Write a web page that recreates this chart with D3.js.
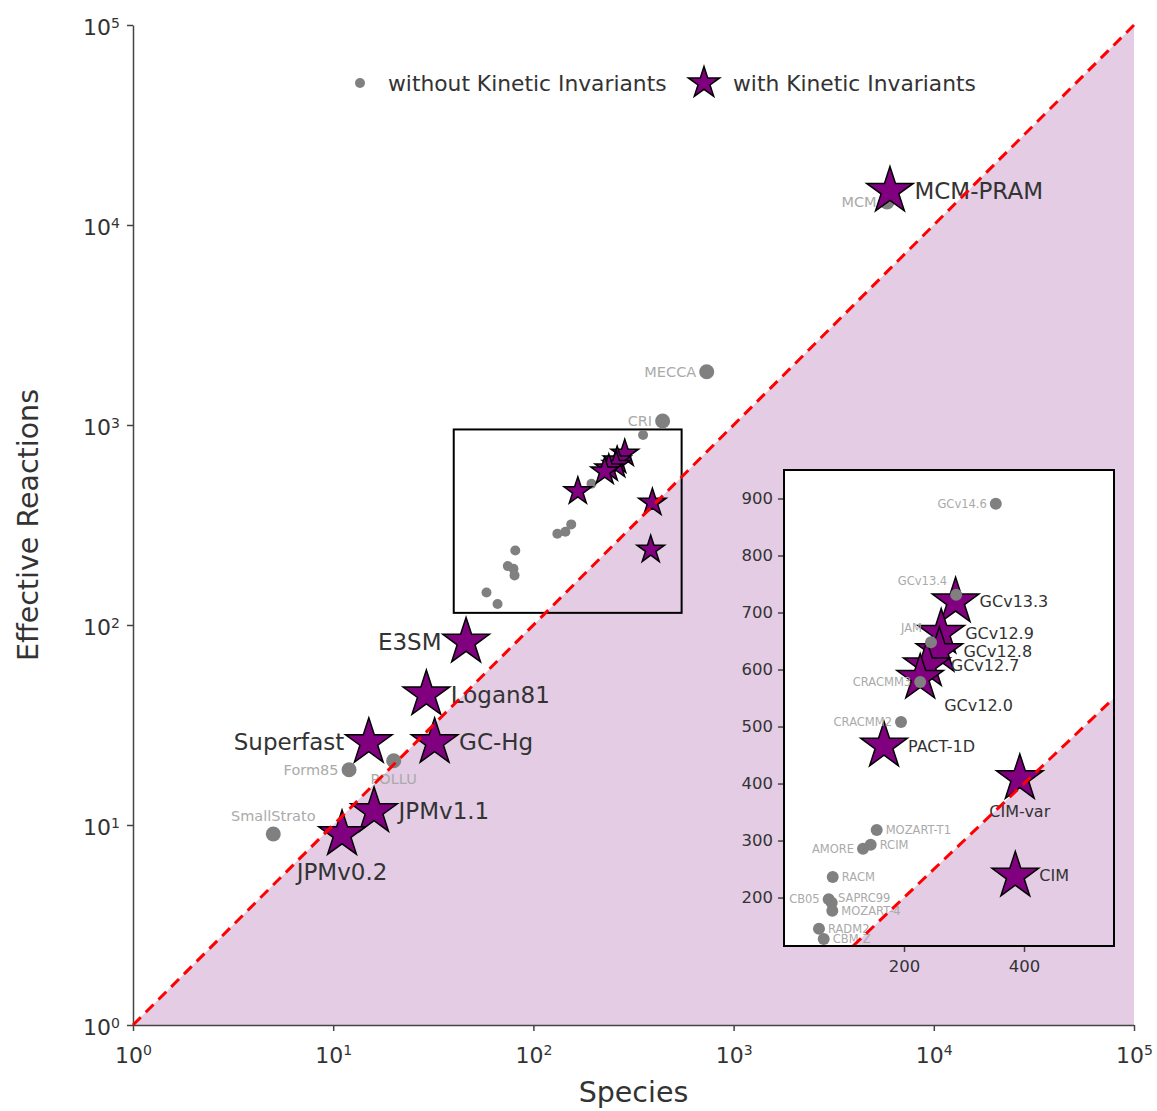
<!DOCTYPE html>
<html>
<head>
<meta charset="utf-8">
<script src="https://cdn.jsdelivr.net/npm/d3@7"></script>
<style>
  body { margin: 0; background: #fff; }
  text { font-family: "DejaVu Sans", Verdana, sans-serif; }
</style>
</head>
<body>
<div id="chart"></div>
<script>
// mechanisms without kinetic invariants
const plainNames = ['SmallStrato', 'Form85', 'POLLU', 'MECCA', 'CRI', 'MCM',
  'GCv14.6', 'GCv13.4', 'JAM', 'CRACMM3', 'CRACMM2', 'MOZART-T1', 'RCIM', 'AMORE',
  'RACM', 'CB05', 'SAPRC99', 'MOZART-4', 'RADM2', 'CBM-Z'];
const plainSpecies = [5.02, 12.0, 20.05, 734, 442, 5840,
  353, 287, 245, 227, 195, 154.5, 144.5, 131.7,
  81.2, 74.5, 79.5, 80.5, 58.3, 66.2];
const plainReactions = [9.02, 18.9, 20.96, 1847, 1047, 13030,
  891, 731, 648, 578, 508, 318.5, 292.7, 285.7,
  236, 197, 191, 177, 145.3, 127.3];
const plainLabelPos = ['top', 'left', 'bottom', 'left', 'left', 'left',
  'left', 'topleft', 'topleft', 'left', 'left', 'right', 'right', 'left',
  'right', 'left', 'topright', 'right', 'right', 'right'];

// mechanisms with kinetic invariants
const kiNames = ['MCM-PRAM', 'E3SM', 'Logan81', 'Superfast', 'GC-Hg', 'JPMv1.1', 'JPMv0.2',
  'GCv13.3', 'GCv12.9', 'GCv12.8', 'GCv12.7', 'GCv12.0', 'PACT-1D', 'CIM-var', 'CIM'];
const kiSpecies = [6040, 46.1, 29.2, 15.06, 32.1, 16.0, 11.07,
  286, 262, 259, 238, 227, 166.7, 393, 385.5];
const kiReactions = [14790, 82.3, 44.9, 25.9, 25.9, 11.7, 8.97,
  719, 664, 632, 607, 585, 466, 409, 238];
const kiLabelPos = ['right', 'left', 'right', 'left', 'right', 'right', 'bottom',
  'right', 'right', 'right', 'right', 'bottomright', 'right', 'bottom', 'right'];

const logTicks = [1, 10, 100, 1e3, 1e4, 1e5];
const insetXTicks = [200, 400];
const insetYTicks = [200, 300, 400, 500, 600, 700, 800, 900];
const zoomSpecies = [40, 550];
const zoomReactions = [115, 950];
const insetSpeciesRange = [0, 550];

const legendLabels = ['without Kinetic Invariants', 'with Kinetic Invariants'];

class MechanismChart {
  constructor(_config) {
    this.config = {
      parentElement: _config.parentElement,
      containerWidth: 1157,
      containerHeight: 1111,
      margin: {top: 25, right: 23, bottom: 86, left: 133},
      inset: {left: 784, top: 470, width: 330, height: 476},
      purple: '#800080',
      shade: '#e3cce4',
      grey: '#808080',
      greyText: '#aaaaaa',
      darkText: '#333333'
    };
    this.plain = plainNames.map((n, i) => ({name: n, x: plainSpecies[i], y: plainReactions[i], pos: plainLabelPos[i]}));
    this.ki = kiNames.map((n, i) => ({name: n, x: kiSpecies[i], y: kiReactions[i], pos: kiLabelPos[i]}));
    this.initVis();
  }

  inZoom(d) {
    return d.x >= zoomSpecies[0] && d.x <= zoomSpecies[1] && d.y >= zoomReactions[0] && d.y <= zoomReactions[1];
  }

  starPath(r) {
    return d3.symbol().type(d3.symbolStar).size(r * r / 0.8908130915292852)();
  }

  // plotly-like text position around a marker
  labelAttrs(sel, d, sx, sy, off, fs) {
    const cx = sx(d.x), cy = sy(d.y);
    let x = cx, y = cy, anchor = 'middle';
    if (d.pos === 'right') { x = cx + off; anchor = 'start'; }
    else if (d.pos === 'left') { x = cx - off; anchor = 'end'; }
    else if (d.pos === 'top') { y = cy - off - fs * 0.55; }
    else if (d.pos === 'bottom') { y = cy + off + fs * 0.55; }
    else if (d.pos === 'topleft') { x = cx - off; y = cy - off - fs * 0.45; anchor = 'end'; }
    else if (d.pos === 'topright') { x = cx + off * 0.7; y = cy - fs * 0.45; anchor = 'start'; }
    else if (d.pos === 'bottomright') { x = cx + off; y = cy + off + fs * 0.2; anchor = 'start'; }
    sel.attr('x', x).attr('y', y).attr('text-anchor', anchor).attr('dy', '0.35em').attr('font-size', fs);
  }

  initVis() {
    let vis = this;
    const c = vis.config;
    vis.width = c.containerWidth - c.margin.left - c.margin.right;
    vis.height = c.containerHeight - c.margin.top - c.margin.bottom;

    vis.svg = d3.select(c.parentElement).append('svg')
      .attr('width', c.containerWidth)
      .attr('height', c.containerHeight);

    vis.chart = vis.svg.append('g')
      .attr('transform', `translate(${c.margin.left},${c.margin.top})`);

    vis.xScale = d3.scaleLog().domain([1, 1e5]).range([0, vis.width]);
    vis.yScale = d3.scaleLog().domain([1, 1e5]).range([vis.height, 0]);

    vis.insetX = d3.scaleLinear().domain(insetSpeciesRange).range([0, c.inset.width]);
    vis.insetY = d3.scaleLinear().domain(zoomReactions).range([c.inset.height, 0]);

    vis.renderVis();
  }

  renderVis() {
    let vis = this;
    const c = vis.config;
    const x = vis.xScale, y = vis.yScale;

    // shaded region below 1:1
    const lo = 1, hi = 1e5;
    vis.chart.append('path')
      .attr('d', `M${x(lo)},${y(lo)}L${x(hi)},${y(hi)}L${x(hi)},${y(lo)}Z`)
      .attr('fill', c.shade);

    // axes
    const yAxis = d3.axisLeft(y).tickValues(logTicks).tickSize(6).tickSizeOuter(0).tickPadding(7);
    const xAxis = d3.axisBottom(x).tickValues(logTicks).tickSize(6).tickSizeOuter(0).tickPadding(10);
    const supTick = (g) => {
      g.selectAll('.tick text').each(function(d) {
        const t = d3.select(this).text('').attr('font-size', 22).attr('fill', c.darkText);
        t.append('tspan').text('10');
        t.append('tspan').attr('dy', '-0.55em').attr('font-size', 14).text(Math.round(Math.log10(d)));
      });
      g.selectAll('.domain, .tick line').attr('stroke', '#444').attr('stroke-width', 1.5);
    };
    vis.chart.append('g').call(yAxis).call(supTick).selectAll('.tick text').attr('dy', '0.45em');
    vis.chart.append('g').attr('transform', `translate(0,${vis.height})`).call(xAxis).call(supTick)
      .selectAll('.tick text').attr('dy', '1.0em');

    vis.svg.append('text')
      .attr('transform', `translate(28,${c.margin.top + vis.height / 2}) rotate(-90)`)
      .attr('text-anchor', 'middle').attr('dy', '0.35em')
      .attr('font-size', 28.5).attr('fill', c.darkText)
      .text('Effective Reactions');
    vis.svg.append('text')
      .attr('x', c.margin.left + vis.width / 2).attr('y', 1092)
      .attr('text-anchor', 'middle').attr('dy', '0.35em')
      .attr('font-size', 28.5).attr('fill', c.darkText)
      .text('Species');

    // zoom rectangle
    vis.chart.append('rect')
      .attr('x', x(zoomSpecies[0])).attr('y', y(zoomReactions[1]))
      .attr('width', x(zoomSpecies[1]) - x(zoomSpecies[0]))
      .attr('height', y(zoomReactions[0]) - y(zoomReactions[1]))
      .attr('fill', 'none').attr('stroke', '#000').attr('stroke-width', 2);

    // main markers: circles first, stars above
    vis.chart.selectAll('.plain-dot')
      .data(vis.plain)
      .join('circle')
      .attr('class', 'plain-dot')
      .attr('cx', d => x(d.x)).attr('cy', d => y(d.y))
      .attr('r', d => vis.inZoom(d) ? 5 : 7.5)
      .attr('fill', c.grey);

    vis.chart.selectAll('.plain-label')
      .data(vis.plain.filter(d => !vis.inZoom(d)))
      .join('text')
      .attr('class', 'plain-label')
      .attr('fill', c.greyText)
      .each(function(d) { vis.labelAttrs(d3.select(this), d, x, y, 10.5, 14.5); })
      .text(d => d.name);

    vis.chart.selectAll('.ki-star')
      .data(vis.ki)
      .join('path')
      .attr('class', 'ki-star')
      .attr('transform', d => `translate(${x(d.x)},${y(d.y)})`)
      .attr('d', d => vis.starPath(vis.inZoom(d) ? 14.5 : 24.5))
      .attr('fill', c.purple).attr('stroke', '#000').attr('stroke-width', 1.5)
      .attr('stroke-linejoin', 'miter');

    vis.chart.selectAll('.ki-label')
      .data(vis.ki.filter(d => !vis.inZoom(d)))
      .join('text')
      .attr('class', 'ki-label')
      .attr('fill', c.darkText)
      .each(function(d) { vis.labelAttrs(d3.select(this), d, x, y, 24.5, 23); })
      .text(d => d.name);

    vis.chart.append('line')
      .attr('x1', x(lo)).attr('y1', y(lo)).attr('x2', x(hi)).attr('y2', y(hi))
      .attr('stroke', 'red').attr('stroke-width', 3).attr('stroke-dasharray', '11,7');

    // legend
    const legend = vis.svg.append('g');
    legend.append('circle').attr('cx', 360).attr('cy', 83).attr('r', 5).attr('fill', c.grey);
    legend.append('text').attr('x', 388).attr('y', 83).attr('dy', '0.35em')
      .attr('font-size', 21.8).attr('fill', c.darkText).text(legendLabels[0]);
    legend.append('path').attr('transform', 'translate(704,83)').attr('d', vis.starPath(16.5))
      .attr('fill', c.purple).attr('stroke', '#000').attr('stroke-width', 1.5);
    legend.append('text').attr('x', 733).attr('y', 83).attr('dy', '0.35em')
      .attr('font-size', 21.8).attr('fill', c.darkText).text(legendLabels[1]);

    vis.renderInset();
  }

  renderInset() {
    let vis = this;
    const c = vis.config;
    const ix = vis.insetX, iy = vis.insetY;
    const w = c.inset.width, h = c.inset.height;

    const g = vis.svg.append('g').attr('transform', `translate(${c.inset.left},${c.inset.top})`);
    g.append('clipPath').attr('id', 'inset-clip').append('rect').attr('width', w).attr('height', h);
    g.append('rect').attr('width', w).attr('height', h).attr('fill', '#fff');

    const body = g.append('g').attr('clip-path', 'url(#inset-clip)');
    const lo = zoomReactions[0], hi = insetSpeciesRange[1];
    body.append('path')
      .attr('d', `M${ix(lo)},${iy(lo)}L${ix(hi)},${iy(hi)}L${ix(hi)},${iy(lo)}Z`)
      .attr('fill', c.shade);

    const kiIn = vis.ki.filter(d => vis.inZoom(d));
    const plainIn = vis.plain.filter(d => vis.inZoom(d));

    body.selectAll('.ki-star')
      .data(kiIn)
      .join('path')
      .attr('class', 'ki-star')
      .attr('transform', d => `translate(${ix(d.x)},${iy(d.y)})`)
      .attr('d', vis.starPath(24.5))
      .attr('fill', c.purple).attr('stroke', '#000').attr('stroke-width', 1.5);

    body.selectAll('.plain-dot')
      .data(plainIn)
      .join('circle')
      .attr('class', 'plain-dot')
      .attr('cx', d => ix(d.x)).attr('cy', d => iy(d.y))
      .attr('r', 6).attr('fill', c.grey);

    body.selectAll('.plain-label')
      .data(plainIn)
      .join('text')
      .attr('class', 'plain-label')
      .attr('fill', c.greyText)
      .each(function(d) { vis.labelAttrs(d3.select(this), d, ix, iy, 9, 11.5); })
      .text(d => d.name);

    body.selectAll('.ki-label')
      .data(kiIn)
      .join('text')
      .attr('class', 'ki-label')
      .attr('fill', c.darkText)
      .each(function(d) { vis.labelAttrs(d3.select(this), d, ix, iy, 24, 16); })
      .text(d => d.name);

    body.append('line')
      .attr('x1', ix(lo)).attr('y1', iy(lo)).attr('x2', ix(hi)).attr('y2', iy(hi))
      .attr('stroke', 'red').attr('stroke-width', 3).attr('stroke-dasharray', '11,7');

    const style = (a) => {
      a.select('.domain').remove();
      a.selectAll('.tick line').attr('stroke', '#444').attr('stroke-width', 1.5);
      a.selectAll('.tick text').attr('font-size', 16.5).attr('fill', c.darkText)
        .attr('font-family', '"DejaVu Sans", Verdana, sans-serif');
    };
    g.append('g').call(d3.axisLeft(iy).tickValues(insetYTicks).tickSize(6).tickPadding(5)).call(style);
    g.append('g').attr('transform', `translate(0,${h})`)
      .call(d3.axisBottom(ix).tickValues(insetXTicks).tickSize(6).tickPadding(8)).call(style);

    g.append('rect').attr('width', w).attr('height', h)
      .attr('fill', 'none').attr('stroke', '#000').attr('stroke-width', 2);
  }
}

new MechanismChart({parentElement: '#chart'});
</script>
</body>
</html>
